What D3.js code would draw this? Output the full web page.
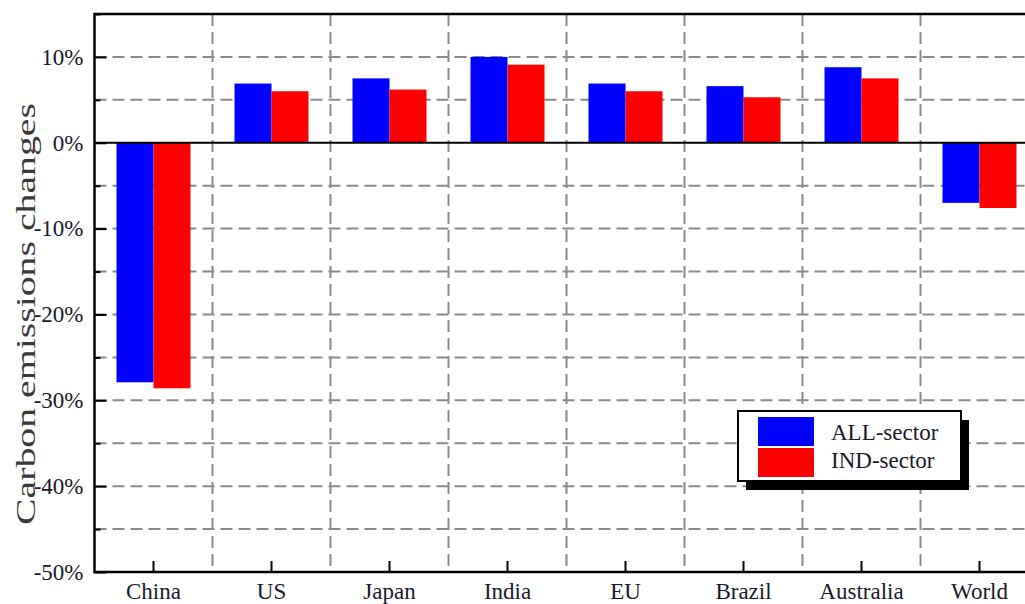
<!DOCTYPE html>
<html>
<head>
<meta charset="utf-8">
<script src="https://cdn.jsdelivr.net/npm/d3@7"></script>
<style>
  html, body { margin: 0; padding: 0; background: #fff; overflow: hidden; }
  svg { display: block; }
  svg text { font-family: 'Liberation Serif', 'Times New Roman', 'DejaVu Serif', serif !important; }
</style>
</head>
<body>
<svg id="chart" width="1025" height="604"></svg>
<script>
// Carbon emission changes by region, two policy scenarios (%)
const regions = ["China", "US", "Japan", "India", "EU", "Brazil", "Australia", "World"];
const seriesNames = ["ALL-sector", "IND-sector"];
const allSector = [-27.9, 6.9, 7.5, 10.0, 6.9, 6.6, 8.8, -7.0];
const indSector = [-28.6, 6.0, 6.2, 9.1, 6.0, 5.3, 7.5, -7.6];
const majorTicks = [-50, -40, -30, -20, -10, 0, 10];
const gridTicks = [-45, -40, -35, -30, -25, -20, -15, -10, -5, 5, 10];
const colors = ["#0000ff", "#ff0000"];

const FONT = "'Liberation Serif', 'Times New Roman', 'DejaVu Serif', serif";
const svg = d3.select("#chart");
const margin = { left: 94.5, top: 14, bottom: 572 };
const plotRight = 1038.5;

const y = d3.scaleLinear().domain([-50, 15]).range([margin.bottom, margin.top]);
const x0 = d3.scaleBand().domain(regions).range([margin.left, plotRight]).padding(0);
const x1 = d3.scaleBand().domain(seriesNames).range([0, x0.bandwidth()])
  .paddingInner(0).paddingOuter(0.595);

const rows = regions.map((r, i) => ({ region: r, values: [allSector[i], indSector[i]] }));

// dashed grid
const grid = svg.append("g").attr("stroke", "#8a8a8a").attr("stroke-width", 2)
  .attr("stroke-dasharray", "12,6").attr("fill", "none");
grid.selectAll("line.h").data(gridTicks).join("line")
  .attr("class", "h")
  .attr("x1", margin.left).attr("x2", plotRight)
  .attr("y1", d => y(d)).attr("y2", d => y(d));
grid.selectAll("line.v").data(regions.slice(1)).join("line")
  .attr("class", "v")
  .attr("x1", d => x0(d)).attr("x2", d => x0(d))
  .attr("y1", margin.top).attr("y2", margin.bottom);

// bars
const groups = svg.append("g").selectAll("g").data(rows).join("g")
  .attr("transform", d => `translate(${x0(d.region)},0)`);
groups.selectAll("rect").data(d => d.values.map((v, k) => ({ v, k })))
  .join("rect")
  .attr("x", d => x1(seriesNames[d.k]))
  .attr("width", x1.bandwidth())
  .attr("y", d => y(Math.max(0, d.v)))
  .attr("height", d => Math.abs(y(d.v) - y(0)))
  .attr("fill", d => colors[d.k]);

// zero line
svg.append("line")
  .attr("x1", margin.left).attr("x2", plotRight)
  .attr("y1", y(0)).attr("y2", y(0))
  .attr("stroke", "#000").attr("stroke-width", 2);

// y axis (major and minor ticks point inward)
const yAxis = svg.append("g").attr("transform", `translate(${margin.left},0)`)
  .call(d3.axisLeft(y).tickValues(majorTicks).tickFormat(d => d + "%")
    .tickSizeInner(-12).tickSizeOuter(0).tickPadding(11));
yAxis.select(".domain").remove();
yAxis.selectAll(".tick line").attr("stroke", "#000").attr("stroke-width", 2);
yAxis.selectAll(".tick text").style("font-size", "23px").style("font-family", FONT)
  .attr("fill", "#1a1a2a");
svg.append("g").attr("transform", `translate(${margin.left},0)`)
  .call(d3.axisLeft(y).tickValues(gridTicks.filter(t => t % 10 !== 0).concat([15]))
    .tickFormat("").tickSizeInner(-6).tickSizeOuter(0))
  .call(g => g.select(".domain").remove())
  .selectAll(".tick line").attr("stroke", "#000").attr("stroke-width", 2);

// x axis
const xAxis = svg.append("g").attr("transform", `translate(0,${margin.bottom})`)
  .call(d3.axisBottom(x0).tickSizeInner(-11).tickSizeOuter(0).tickPadding(11));
xAxis.select(".domain").remove();
xAxis.selectAll(".tick line").attr("stroke", "#000").attr("stroke-width", 2);
xAxis.selectAll(".tick text").style("font-size", "23px").style("font-family", FONT)
  .attr("fill", "#1a1a2a");

// frame
svg.append("rect")
  .attr("x", margin.left).attr("y", margin.top)
  .attr("width", plotRight - margin.left).attr("height", margin.bottom - margin.top)
  .attr("fill", "none").attr("stroke", "#000").attr("stroke-width", 2.5);

// y axis title
svg.append("text")
  .attr("transform", `translate(35,314) rotate(-90)`)
  .attr("text-anchor", "middle")
  .style("font-size", "28px").style("font-family", FONT)
  .attr("fill", "#3a3a3a")
  .attr("textLength", 422)
  .attr("lengthAdjust", "spacingAndGlyphs")
  .text("Carbon emissions changes");

// legend with drop shadow
const lg = svg.append("g").attr("transform", "translate(738,411)");
lg.append("rect").attr("x", 8).attr("y", 9).attr("width", 223).attr("height", 70).attr("fill", "#000");
lg.append("rect").attr("x", 0).attr("y", 0).attr("width", 223).attr("height", 70)
  .attr("fill", "#fff").attr("stroke", "#000").attr("stroke-width", 2);
seriesNames.forEach((name, k) => {
  lg.append("rect").attr("x", 20).attr("y", 6 + k * 31).attr("width", 56).attr("height", 29)
    .attr("fill", colors[k]);
  lg.append("text").attr("x", 93).attr("y", 29 + k * 28)
    .style("font-size", "23px").style("font-family", FONT)
    .attr("fill", "#1a1a2a").text(name);
});
</script>
</body>
</html>
